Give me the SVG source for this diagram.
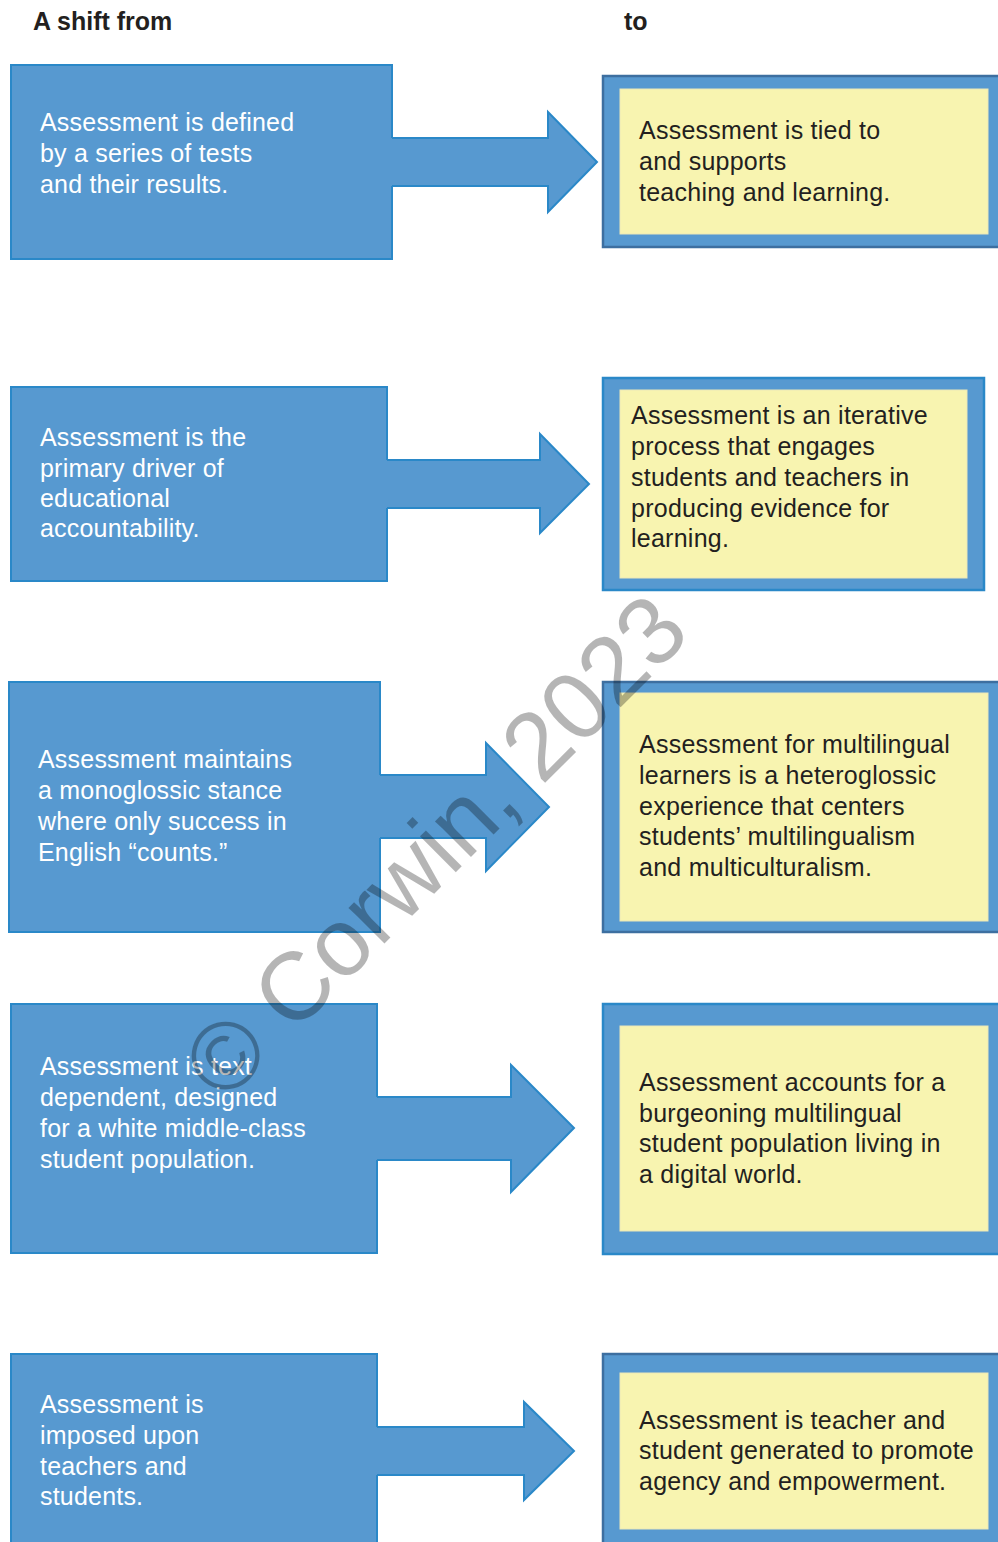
<svg xmlns="http://www.w3.org/2000/svg" width="998" height="1542" viewBox="0 0 998 1542">
<style>
.lbox{fill:#5799d0;stroke:#2a88c8;stroke-width:2}
.afill{fill:#5799d0;stroke:none}
.aline{fill:none;stroke:#2a88c8;stroke-width:2;stroke-linejoin:miter}
.obox{fill:#5799d0;stroke-width:2.5}
.dk{stroke:#3d6fa0}
.lt2{stroke:#2a88c8}
.ibox{fill:#f8f4b0;stroke:#ece8b8;stroke-width:1}
.lt{font-family:"Liberation Sans",Arial,Helvetica,sans-serif;font-size:25px;letter-spacing:0.2px;fill:#ffffff}
.rt{font-family:"Liberation Sans",Arial,Helvetica,sans-serif;font-size:25px;letter-spacing:0.25px;fill:#231f20}
.hd{font-family:"Liberation Sans",Arial,Helvetica,sans-serif;font-size:25px;font-weight:bold;fill:#231f20}
.wm{font-family:"Liberation Sans",Arial,Helvetica,sans-serif;font-size:96px;fill:#000000;fill-opacity:0.29}
</style>
<rect width="998" height="1542" fill="#ffffff"/>
<g id="header">
<text class="hd" x="33" y="30">A shift from</text>
<text class="hd" x="624" y="30">to</text>
</g>

<!-- Row 1 -->
<g id="from1">
<rect class="lbox" x="11" y="65" width="381" height="194"/>
<text class="lt" x="40" y="131">Assessment is defined</text>
<text class="lt" x="40" y="162">by a series of tests</text>
<text class="lt" x="40" y="193">and their results.</text>
</g>
<g id="to1">
<rect class="obox dk" x="603" y="76" width="400" height="171"/>
<rect class="ibox" x="620" y="89" width="368" height="145"/>
<text class="rt" x="639" y="139">Assessment is tied to</text>
<text class="rt" x="639" y="170">and supports</text>
<text class="rt" x="639" y="201">teaching and learning.</text>
</g>

<!-- Row 2 -->
<g id="from2">
<rect class="lbox" x="11" y="387" width="376" height="194"/>
<text class="lt" x="40" y="446">Assessment is the</text>
<text class="lt" x="40" y="477">primary driver of</text>
<text class="lt" x="40" y="507">educational</text>
<text class="lt" x="40" y="537">accountability.</text>
</g>
<g id="to2">
<rect class="obox lt2" x="603" y="378" width="381" height="212"/>
<rect class="ibox" x="620" y="390" width="347" height="188"/>
<text class="rt" x="631" y="424">Assessment is an iterative</text>
<text class="rt" x="631" y="455">process that engages</text>
<text class="rt" x="631" y="486">students and teachers in</text>
<text class="rt" x="631" y="517">producing evidence for</text>
<text class="rt" x="631" y="547">learning.</text>
</g>

<!-- Row 3 -->
<g id="from3">
<rect class="lbox" x="9" y="682" width="371" height="250"/>
<text class="lt" x="38" y="768">Assessment maintains</text>
<text class="lt" x="38" y="799">a monoglossic stance</text>
<text class="lt" x="38" y="830">where only success in</text>
<text class="lt" x="38" y="861">English “counts.”</text>
</g>
<g id="to3">
<rect class="obox dk" x="603" y="682" width="400" height="250"/>
<rect class="ibox" x="620" y="693" width="368" height="228"/>
<text class="rt" x="639" y="753">Assessment for multilingual</text>
<text class="rt" x="639" y="784">learners is a heteroglossic</text>
<text class="rt" x="639" y="815">experience that centers</text>
<text class="rt" x="639" y="845">students’ multilingualism</text>
<text class="rt" x="639" y="876">and multiculturalism.</text>
</g>

<!-- Row 4 -->
<g id="from4">
<rect class="lbox" x="11" y="1004" width="366" height="249"/>
<text class="lt" x="40" y="1075">Assessment is text</text>
<text class="lt" x="40" y="1106">dependent, designed</text>
<text class="lt" x="40" y="1137">for a white middle-class</text>
<text class="lt" x="40" y="1168">student population.</text>
</g>
<g id="to4">
<rect class="obox lt2" x="603" y="1004" width="400" height="250"/>
<rect class="ibox" x="620" y="1026" width="368" height="205"/>
<text class="rt" x="639" y="1091">Assessment accounts for a</text>
<text class="rt" x="639" y="1122">burgeoning multilingual</text>
<text class="rt" x="639" y="1152">student population living in</text>
<text class="rt" x="639" y="1183">a digital world.</text>
</g>

<!-- Row 5 -->
<g id="from5">
<rect class="lbox" x="11" y="1354" width="366" height="200"/>
<text class="lt" x="40" y="1413">Assessment is</text>
<text class="lt" x="40" y="1444">imposed upon</text>
<text class="lt" x="40" y="1475">teachers and</text>
<text class="lt" x="40" y="1505">students.</text>
</g>
<g id="to5">
<rect class="obox dk" x="603" y="1354" width="400" height="200"/>
<rect class="ibox" x="620" y="1373" width="368" height="156"/>
<text class="rt" x="639" y="1429">Assessment is teacher and</text>
<text class="rt" x="639" y="1459">student generated to promote</text>
<text class="rt" x="639" y="1490">agency and empowerment.</text>
</g>

<g id="connectors">
<polygon class="afill" points="389,138 548,138 548,112 597,162 548,212 548,186 389,186"/>
<polyline class="aline" points="392,138 548,138 548,112 597,162 548,212 548,186 392,186"/>
<polygon class="afill" points="384,460 540,460 540,434 589,484 540,533 540,508 384,508"/>
<polyline class="aline" points="387,460 540,460 540,434 589,484 540,533 540,508 387,508"/>
<polygon class="afill" points="377,775 486,775 486,743 549,807 486,871 486,838 377,838"/>
<polyline class="aline" points="380,775 486,775 486,743 549,807 486,871 486,838 380,838"/>
<polygon class="afill" points="374,1097 511,1097 511,1065 574,1128 511,1192 511,1160 374,1160"/>
<polyline class="aline" points="377,1097 511,1097 511,1065 574,1128 511,1192 511,1160 377,1160"/>
<polygon class="afill" points="374,1427 524,1427 524,1402 574,1451 524,1500 524,1475 374,1475"/>
<polyline class="aline" points="377,1427 524,1427 524,1402 574,1451 524,1500 524,1475 377,1475"/>
</g>

<g id="watermark">
<text class="wm" x="224" y="1104" transform="rotate(-45 224 1104)">© Corwin, 2023</text>
</g>
</svg>
